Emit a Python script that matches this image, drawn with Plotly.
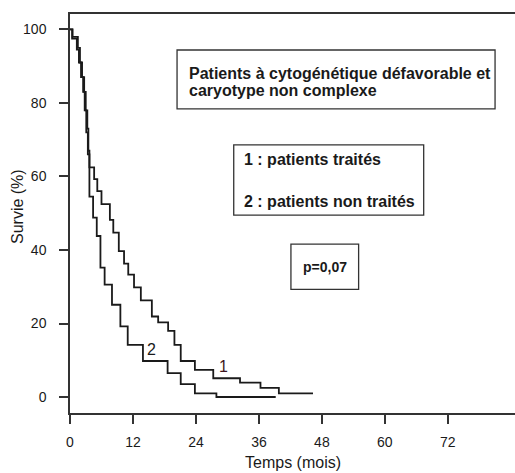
import plotly.graph_objects as go

# Curve 1 : patients traités (step times in months, survival in %)
months_treated = [0, 0.5, 1.5, 1.9, 2.3, 2.7, 3.0, 3.3, 3.5, 3.7, 4.6, 5.2, 6.0, 7.6, 8.25,
                  9.3, 10.3, 11.1, 12.2, 13.5, 15.6, 16.8, 18.7, 19.9, 21.1, 23.8, 27.3,
                  32.4, 36.3, 39.8, 46.3]
surv_treated = [100, 98, 95, 91, 87, 83, 78, 73, 67, 62.5, 59.3, 56, 52.5, 48.2, 44.7,
                39.7, 36.3, 33.3, 29.8, 26.3, 21.9, 20.3, 18.0, 14.2, 9.8, 7.4, 5.1,
                3.9, 2.5, 1.0, 1.0]

# Curve 2 : patients non traités
months_untreated = [0, 0.4, 1.3, 1.7, 2.1, 2.5, 2.8, 3.1, 3.4, 3.7, 4.4, 5.1, 5.8, 6.6,
                    8.0, 9.6, 11.0, 13.9, 18.6, 21.1, 23.8, 27.9, 39.2]
surv_untreated = [100, 97.5, 94.5, 91, 87, 83, 78, 72, 66, 54.5, 48.8, 43.8, 35.2, 30.6,
                  25.1, 19.2, 14.2, 9.8, 6.5, 3.5, 1.0, 0, 0]

x_ticks = [0, 12, 24, 36, 48, 60, 72]
y_ticks = [0, 20, 40, 60, 80, 100]

INK = "#1a1a1a"
FONT = "Liberation Sans, Arial, sans-serif"

fig = go.Figure()
fig.add_trace(go.Scatter(x=months_treated, y=surv_treated, mode="lines",
                         line=dict(shape="hv", color=INK, width=1.8), showlegend=False))
fig.add_trace(go.Scatter(x=months_untreated, y=surv_untreated, mode="lines",
                         line=dict(shape="hv", color=INK, width=1.8), showlegend=False))

shapes = [
    dict(type="rect", xref="x", yref="y", x0=20.4, x1=81.0, y0=78.4, y1=94.4,
         line=dict(color="#333", width=1.3), fillcolor="white", layer="above"),
    dict(type="rect", xref="x", yref="y", x0=31.2, x1=67.4, y0=49.5, y1=68.6,
         line=dict(color="#333", width=1.3), fillcolor="white", layer="above"),
    dict(type="rect", xref="x", yref="y", x0=42.1, x1=55.0, y0=29.3, y1=41.6,
         line=dict(color="#333", width=1.3), fillcolor="white", layer="above"),
]

bold = dict(family=FONT, size=16, color=INK, weight="bold")
annotations = [
    dict(x=22.2, y=88.1, xref="x", yref="y", xanchor="left", yanchor="middle",
         text="Patients à cytogénétique défavorable et", showarrow=False, font=bold),
    dict(x=22.2, y=83.5, xref="x", yref="y", xanchor="left", yanchor="middle",
         text="caryotype non complexe", showarrow=False, font=bold),
    dict(x=32.7, y=64.7, xref="x", yref="y", xanchor="left", yanchor="middle",
         text="1 : patients traités", showarrow=False, font=bold),
    dict(x=32.7, y=53.1, xref="x", yref="y", xanchor="left", yanchor="middle",
         text="2 : patients non traités", showarrow=False, font=bold),
    dict(x=48.6, y=35.4, xref="x", yref="y", xanchor="center", yanchor="middle",
         text="p=0,07", showarrow=False,
         font=dict(family=FONT, size=14, color=INK, weight="bold")),
    dict(x=15.6, y=12.8, xref="x", yref="y", xanchor="center", yanchor="middle",
         text="2", showarrow=False, font=dict(family=FONT, size=16, color=INK)),
    dict(x=29.2, y=8.2, xref="x", yref="y", xanchor="center", yanchor="middle",
         text="1", showarrow=False, font=dict(family=FONT, size=16, color="#3d1520")),
    # axis titles
    dict(x=(293 - 70) / 445, y=-(463 - 413) / 399, xref="paper", yref="paper",
         xanchor="center", yanchor="middle", text="Temps (mois)", showarrow=False,
         font=dict(family=FONT, size=16, color=INK)),
    dict(x=-(70 - 17) / 445, y=(413 - 207) / 399, xref="paper", yref="paper",
         xanchor="center", yanchor="middle", text="Survie (%)", showarrow=False,
         textangle=-90, font=dict(family=FONT, size=16, color=INK)),
]

fig.update_layout(
    width=515, height=473,
    margin=dict(l=70, r=0, t=14, b=60),
    paper_bgcolor="white", plot_bgcolor="white",
    shapes=shapes, annotations=annotations,
    font=dict(family=FONT, size=13, color=INK),
    xaxis=dict(range=[0, 84.8], tickmode="array", tickvals=x_ticks,
               ticktext=[str(v) for v in x_ticks],
               showgrid=False, zeroline=False, showline=True, linecolor="#333",
               linewidth=1.5, mirror=True, ticks="outside", ticklen=9, tickwidth=1.5,
               tickcolor="#333", ticklabelstandoff=6,
               tickfont=dict(family=FONT, size=14, color=INK)),
    yaxis=dict(range=[-4.35, 104.2], tickmode="array", tickvals=y_ticks,
               ticktext=[str(v) for v in y_ticks],
               showgrid=False, zeroline=False, showline=True, linecolor="#333",
               linewidth=1.5, ticks="outside", ticklen=9, tickwidth=1.5,
               tickcolor="#333", ticklabelstandoff=10,
               tickfont=dict(family=FONT, size=14, color=INK)),
)

fig.write_html("out.html")
